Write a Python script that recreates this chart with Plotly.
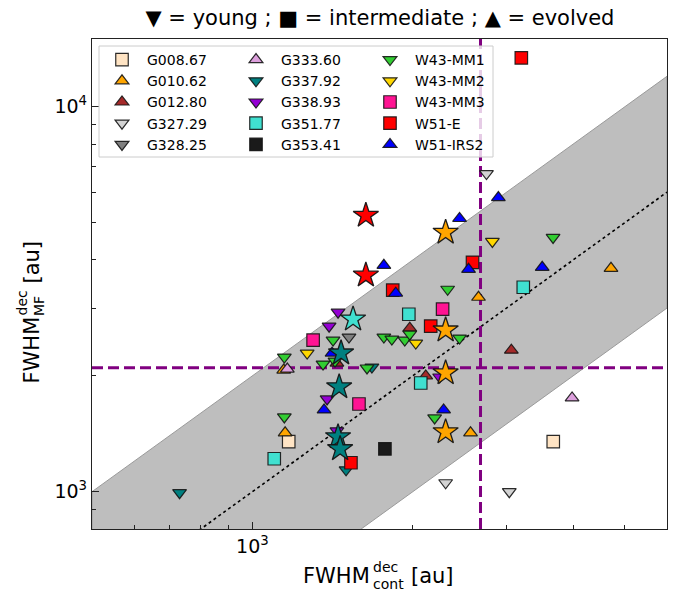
import numpy as np
import plotly.graph_objects as go

# ---------------- data: FWHM (au) ----------------
G008_67_x = [1170, 3670]
G008_67_y = [1350, 1350]
G010_62_x = [1145, 1152, 2567, 2657, 4710]
G010_62_y = [2070, 1422, 1422, 3200, 3805]
G012_80_x = [1974, 1441, 2115, 3062]
G012_80_y = [2660, 2159, 1998, 2332]
G327_29_x = [2750, 2305, 3035]
G327_29_y = [6706, 1055, 1000]
G328_25_x = [1518]
G328_25_y = [2522]
G333_60_x = [1163, 3981]
G333_60_y = [2083, 1752]
G337_92_x = [1676, 1499, 730]
G337_92_y = [2108, 1140, 994]
G338_93_x = [1448, 1393, 1381, 1441, 2246]
G338_93_y = [2926, 2692, 1742, 1439, 1986]
G351_77_x = [1099, 1966, 2070, 3224]
G351_77_y = [1218, 2891, 1916, 3397]
G353_41_x = [1773]
G353_41_y = [1292]
W43_MM1_x = [1148, 1148, 1417, 1357, 1429, 1641, 1765, 1827, 1932, 1974, 2325, 2448, 2198, 3667]
W43_MM1_y = [2237, 1564, 2476, 2146, 2185, 2096, 2522, 2491, 2476, 2567, 3357, 2506, 1555, 4577]
W43_MM2_x = [1267, 2026, 2821]
W43_MM2_y = [2291, 2432, 4469]
W43_MM3_x = [1300, 1585, 2275]
W43_MM3_y = [2476, 1690, 2980]
W51_E_x = [1531, 2161, 1834, 2589, 3197]
W51_E_y = [1189, 2692, 3338, 3944, 13400]
W51_IRS2_x = [1765, 1858, 2448, 2545, 2895, 3499, 2285, 1411, 1363]
W51_IRS2_y = [3873, 3278, 5126, 3782, 5810, 3827, 1631, 2291, 1631]

# stars (per-region reference values)
star_W51_E_x = [1633, 1633]
star_W51_E_y = [5219, 3649]
star_G351_77_x = [1545]
star_G351_77_y = [2807]
star_G337_92_x = [1467, 1455, 1448, 1461]
star_G337_92_y = [2291, 1871, 1388, 1292]
star_G010_62_x = [2305, 2305, 2305, 2305]
star_G010_62_y = [4717, 2629, 2034, 1430]

region_names = ["G008.67", "G010.62", "G012.80", "G327.29", "G328.25",
                "G333.60", "G337.92", "G338.93", "G351.77", "G353.41",
                "W43-MM1", "W43-MM2", "W43-MM3", "W51-E", "W51-IRS2"]
region_x = [G008_67_x, G010_62_x, G012_80_x, G327_29_x, G328_25_x,
            G333_60_x, G337_92_x, G338_93_x, G351_77_x, G353_41_x,
            W43_MM1_x, W43_MM2_x, W43_MM3_x, W51_E_x, W51_IRS2_x]
region_y = [G008_67_y, G010_62_y, G012_80_y, G327_29_y, G328_25_y,
            G333_60_y, G337_92_y, G338_93_y, G351_77_y, G353_41_y,
            W43_MM1_y, W43_MM2_y, W43_MM3_y, W51_E_y, W51_IRS2_y]
region_symbols = ["square", "triangle-up", "triangle-up", "triangle-down", "triangle-down",
                  "triangle-up", "triangle-down", "triangle-down", "square", "square",
                  "triangle-down", "triangle-down", "square", "square", "triangle-up"]
region_colors = ["#FFE4C4", "#FFA500", "#A52A2A", "#D3D3D3", "#808080",
                 "#DDA0DD", "#008080", "#9400D3", "#40E0D0", "#1a1a1a",
                 "#32CD32", "#FFD700", "#FF1493", "#FF0000", "#0000FF"]

stars_x = [star_W51_E_x, star_G351_77_x, star_G337_92_x, star_G010_62_x]
stars_y = [star_W51_E_y, star_G351_77_y, star_G337_92_y, star_G010_62_y]
stars_colors = ["#FF0000", "#40E0D0", "#008080", "#FFA500"]

x_range = [500, 6000]
y_range = [800, 15000]
band_factor = 2.0
fwhm_cont_limit = 2680
fwhm_mf_limit = 2100

fig = go.Figure()

# grey band between y = x/2 and y = 2x
bx = [x_range[0], x_range[1], x_range[1], x_range[0], x_range[0]]
by = [x_range[0] * band_factor, x_range[1] * band_factor,
      x_range[1] / band_factor, x_range[0] / band_factor, x_range[0] * band_factor]
fig.add_trace(go.Scatter(x=bx, y=by, mode="lines", fill="toself",
                         fillcolor="#bebebe", line=dict(color="#9a9a9a", width=1),
                         showlegend=False, hoverinfo="skip"))
# 1:1 line
fig.add_trace(go.Scatter(x=x_range, y=x_range, mode="lines",
                         line=dict(color="black", width=1.6, dash="dot"),
                         showlegend=False, hoverinfo="skip"))
# limits
fig.add_trace(go.Scatter(x=[fwhm_cont_limit, fwhm_cont_limit], y=y_range, mode="lines",
                         line=dict(color="#800080", width=3, dash="11px,5px"),
                         showlegend=False, hoverinfo="skip"))
fig.add_trace(go.Scatter(x=x_range, y=[fwhm_mf_limit, fwhm_mf_limit], mode="lines",
                         line=dict(color="#800080", width=3, dash="11px,5px"),
                         showlegend=False, hoverinfo="skip"))

legend_ids = ["legend", "legend2", "legend3"]
for i, name in enumerate(region_names):
    sym = region_symbols[i]
    size = 12.5 if sym == "square" else 12
    fig.add_trace(go.Scatter(
        x=region_x[i], y=region_y[i], mode="markers", name=name,
        legend=legend_ids[i // 5],
        marker=dict(symbol=sym, size=size, color=region_colors[i],
                    line=dict(color="rgba(20,20,20,0.9)", width=1.2)),
    ))

for i in range(len(stars_x)):
    fig.add_trace(go.Scatter(
        x=stars_x[i], y=stars_y[i], mode="markers", showlegend=False,
        marker=dict(symbol="star", size=19, color=stars_colors[i],
                    line=dict(color="rgba(20,20,20,0.95)", width=1.3)),
    ))

# plot-area geometry (px) for helper conversions
L, R, T, B = 92, 667, 39, 529
W, H = R - L, B - T
def px(xp):
    return (xp - L) / W
def py(yp):
    return (B - yp) / H

# legend frame
fig.add_shape(type="rect", xref="paper", yref="paper",
              x0=px(99), x1=px(493), y0=py(157), y1=py(46),
              line=dict(color="#cccccc", width=1), fillcolor="rgba(255,255,255,0.8)",
              layer="above")

leg_common = dict(bgcolor="rgba(0,0,0,0)", borderwidth=0,
                  font=dict(family="DejaVu Sans", size=14, color="black"),
                  xanchor="left", yanchor="top", tracegroupgap=0, itemwidth=40)
fig.update_layout(
    legend=dict(x=px(97), y=py(44), **leg_common),
    legend2=dict(x=px(231), y=py(44), **leg_common),
    legend3=dict(x=px(365), y=py(44), **leg_common),
)

tick_font = dict(family="DejaVu Sans", size=19, color="black")
fig.update_xaxes(type="log", range=[np.log10(x_range[0]), np.log10(x_range[1])],
                 showline=True, linecolor="#222", linewidth=1.3, mirror=True,
                 ticks="inside", ticklen=7, tickwidth=1.2, tickcolor="#222",
                 tickvals=[1000], ticktext=["10<sup>3</sup>"], tickfont=tick_font,
                 showgrid=False, zeroline=False,
                 minor=dict(tickvals=[600, 700, 800, 900, 2000, 3000, 4000, 5000],
                            ticks="inside", ticklen=4, tickwidth=1, tickcolor="#222"))
fig.update_yaxes(type="log", range=[np.log10(y_range[0]), np.log10(y_range[1])],
                 showline=True, linecolor="#222", linewidth=1.3, mirror=True,
                 ticks="inside", ticklen=7, tickwidth=1.2, tickcolor="#222",
                 tickvals=[1000, 10000], ticktext=["10<sup>3</sup>", "10<sup>4</sup>"],
                 tickfont=tick_font, showgrid=False, zeroline=False,
                 minor=dict(tickvals=[900, 2000, 3000, 4000, 5000, 6000, 7000, 8000, 9000],
                            ticks="inside", ticklen=4, tickwidth=1, tickcolor="#222"))

lab = dict(family="DejaVu Sans", size=21, color="black")
sml = dict(family="DejaVu Sans", size=14, color="black")
ann = [
    # x label
    dict(text="FWHM", x=px(371), y=py(576), xanchor="right", yanchor="middle", font=lab),
    dict(text="dec", x=px(372), y=py(567), xanchor="left", yanchor="middle", font=sml),
    dict(text="cont", x=px(372), y=py(584), xanchor="left", yanchor="middle", font=sml),
    dict(text="[au]", x=px(410), y=py(576), xanchor="left", yanchor="middle", font=lab),
    # y label
    dict(text="FWHM", x=px(31), y=py(385), xanchor="center", yanchor="bottom", font=lab, textangle=-90),
    dict(text="dec", x=px(22), y=py(317), xanchor="center", yanchor="bottom", font=sml, textangle=-90),
    dict(text="MF", x=px(39), y=py(317), xanchor="center", yanchor="bottom", font=sml, textangle=-90),
    dict(text="[au]", x=px(31), y=py(285), xanchor="center", yanchor="bottom", font=lab, textangle=-90),
]
for a in ann:
    a.update(xref="paper", yref="paper", showarrow=False, borderpad=0)
fig.update_layout(annotations=ann)

fig.update_layout(
    width=686, height=592,
    margin=dict(l=L, r=686 - R, t=T, b=592 - B),
    paper_bgcolor="white", plot_bgcolor="white",
    font=dict(family="DejaVu Sans", color="black"),
    title=dict(text="▼ = young ; ■ = intermediate ; ▲ = evolved",
               x=px(380), xref="paper", xanchor="center",
               y=1 - 18 / 592, yref="container", yanchor="middle",
               font=dict(family="DejaVu Sans", size=21, color="black")),
)

fig.write_html("out.html", config={"displayModeBar": False},
               post_script="document.body.style.margin='0px';")
